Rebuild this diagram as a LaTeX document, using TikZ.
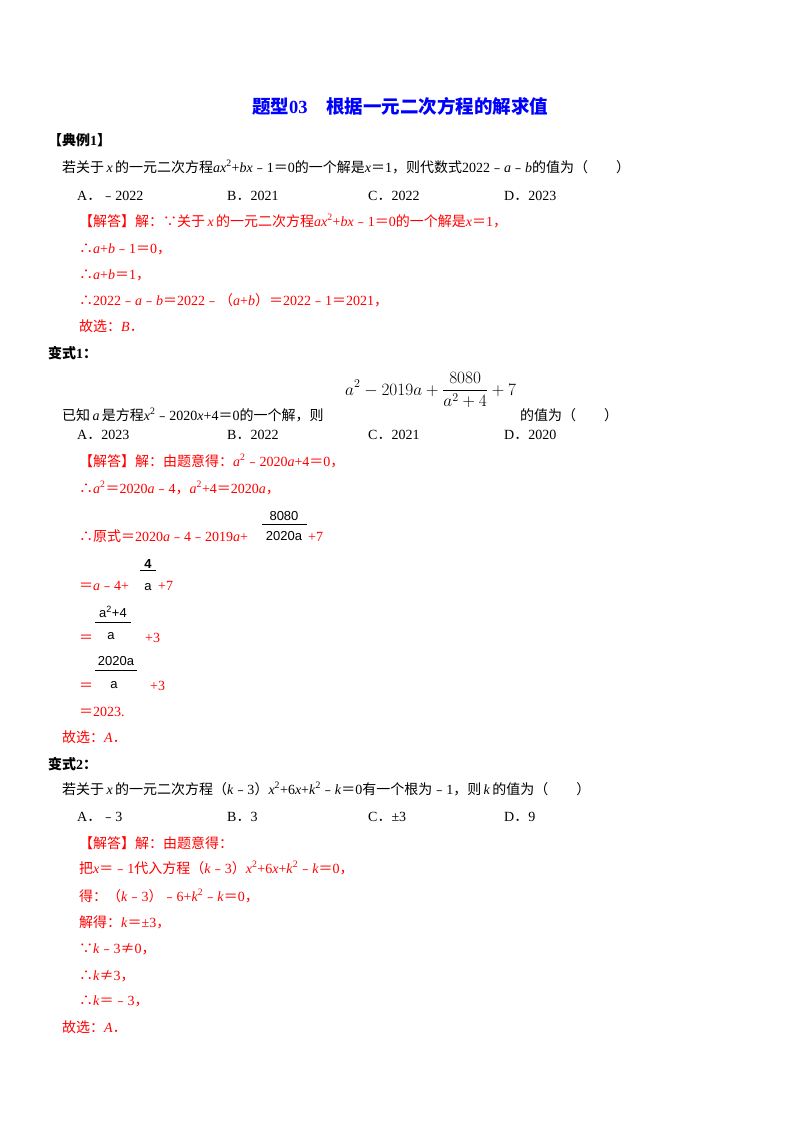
\documentclass[tikz,border=0pt]{standalone}
\usepackage{fontspec}
\setmainfont{Liberation Serif}
\newfontfamily\cjk{Noto Sans CJK SC}
\newfontfamily\lsans{Liberation Sans}
\newcommand{\zh}[1]{{\cjk #1}}
\newcommand{\sq}{\textsuperscript{2}}
\newcommand{\mi}{\zh{﹣}}
\newcommand{\eq}{\zh{＝}}
\begin{document}
\begin{tikzpicture}[x=1pt,y=-1pt,
  t/.style={anchor=base west,inner sep=0pt,font=\fontsize{14}{16}\selectfont},
  r/.style={t,text=red},
  h/.style={t,font=\fontsize{14}{16}\selectfont\bfseries},
  fr/.style={anchor=base,inner sep=0pt,font=\fontsize{13}{15}\lsans}]
\useasboundingbox[fill=white] (0,0) rectangle (800,1132);
\node[anchor=base,inner sep=0pt,text=blue,font=\fontsize{18.5}{21}\selectfont\bfseries] (title) at (400,113) {\zh{\bfseries 题型}03\quad\zh{\bfseries 根据一元二次方程的解求值}};
\node[h] (e1) at (48,145) {\zh{\bfseries 【典例}1\zh{\bfseries 】}};
\node[t] (q1) at (62,172) {\zh{若关于}\,\textit{x}\,\zh{的一元二次方程}\textit{ax}\sq+\textit{bx}\mi1\eq0\zh{的一个解是}\textit{x}\eq1\zh{，则代数式}2022\mi\textit{a}\mi\textit{b}\zh{的值为（\qquad）}};
\node[t] (o1a) at (77,200) {A\zh{．}\mi2022};
\node[t] (o1b) at (227,200) {B\zh{．}2021};
\node[t] (o1c) at (368,200) {C\zh{．}2022};
\node[t] (o1d) at (504,200) {D\zh{．}2023};
\node[r] (s11) at (79,226) {\zh{【解答】解：∵关于}\,\textit{x}\,\zh{的一元二次方程}\textit{ax}\sq+\textit{bx}\mi1\eq0\zh{的一个解是}\textit{x}\eq1\zh{，}};
\node[r] (s12) at (79,253) {\zh{∴}\textit{a}+\textit{b}\mi1\eq0\zh{，}};
\node[r] (s13) at (79,279) {\zh{∴}\textit{a}+\textit{b}\eq1\zh{，}};
\node[r] (s14) at (79,305) {\zh{∴}2022\mi\textit{a}\mi\textit{b}\eq2022\mi\zh{（}\textit{a}+\textit{b}\zh{）}\eq2022\mi1\eq2021\zh{，}};
\node[r] (s15) at (79,331) {\zh{故选：}\textit{B}\zh{．}};
\node[h] (v1) at (48,358) {\zh{\bfseries 变式}1\zh{\bfseries ：}};
\node[t] (q2) at (62,420) {\zh{已知}\,\textit{a}\,\zh{是方程}\textit{x}\sq\mi2020\textit{x}+4\eq0\zh{的一个解，则}};
\node[anchor=base west,inner sep=0pt,font=\fontsize{17}{19}\selectfont] (ex) at (345,395) {$\displaystyle a^2-2019a+\frac{8080}{a^2+4}+7$};
\node[t] (q2b) at (520,420) {\zh{的值为（\qquad）}};
\node[t] (o2a) at (77,439) {A\zh{．}2023};
\node[t] (o2b) at (227,439) {B\zh{．}2022};
\node[t] (o2c) at (368,439) {C\zh{．}2021};
\node[t] (o2d) at (504,439) {D\zh{．}2020};
\node[r] (s21) at (79,466) {\zh{【解答】解：由题意得：}\textit{a}\sq\mi2020\textit{a}+4\eq0\zh{，}};
\node[r] (s22) at (79,493) {\zh{∴}\textit{a}\sq\eq2020\textit{a}\mi4\zh{，}\textit{a}\sq+4\eq2020\textit{a}\zh{，}};
\node[r] (s23) at (79,541) {\zh{∴原式}\eq2020\textit{a}\mi4\mi2019\textit{a}+};
\node[fr] (n23) at (284,520) {8080};
\node[fr] (d23) at (284,540) {2020a};
\draw[line width=0.6pt] (262,524) -- (307,524);
\node[r] (p23) at (308,541) {+7};
\node[r] (s24) at (79,590) {\eq\textit{a}\mi4+};
\node[fr] (n24) at (148,568) {\textbf{4}};
\node[fr] (d24) at (148,590) {a};
\draw[line width=0.6pt] (140,570) -- (156,570);
\node[r] (p24) at (158,590) {+7};
\node[r] (s25) at (79,642) {\eq};
\node[fr] (n25) at (113,617) {a\textsuperscript{2}+4};
\node[fr] (d25) at (111,639) {a};
\draw[line width=0.6pt] (95,622) -- (131,622);
\node[r] (p25) at (145,642) {+3};
\node[r] (s26) at (79,690) {\eq};
\node[fr] (n26) at (116,665) {2020a};
\node[fr] (d26) at (114,688) {a};
\draw[line width=0.6pt] (95,670) -- (137,670);
\node[r] (p26) at (150,690) {+3};
\node[r] (s27) at (79,716) {\eq2023.};
\node[r] (s28) at (62,742) {\zh{故选：}\textit{A}\zh{．}};
\node[h] (v2) at (48,769) {\zh{\bfseries 变式}2\zh{\bfseries ：}};
\node[t] (q3) at (62,794) {\zh{若关于}\,\textit{x}\,\zh{的一元二次方程（}\textit{k}\mi3\zh{）}\textit{x}\sq+6\textit{x}+\textit{k}\sq\mi\textit{k}\eq0\zh{有一个根为}\mi1\zh{，则}\,\textit{k}\,\zh{的值为（\qquad）}};
\node[t] (o3a) at (77,821) {A\zh{．}\mi3};
\node[t] (o3b) at (227,821) {B\zh{．}3};
\node[t] (o3c) at (368,821) {C\zh{．}±3};
\node[t] (o3d) at (504,821) {D\zh{．}9};
\node[r] (s31) at (79,848) {\zh{【解答】解：由题意得：}};
\node[r] (s32) at (79,873) {\zh{把}\textit{x}\eq\mi1\zh{代入方程（}\textit{k}\mi3\zh{）}\textit{x}\sq+6\textit{x}+\textit{k}\sq\mi\textit{k}\eq0\zh{，}};
\node[r] (s33) at (79,901) {\zh{得：（}\textit{k}\mi3\zh{）}\mi6+\textit{k}\sq\mi\textit{k}\eq0\zh{，}};
\node[r] (s34) at (79,927) {\zh{解得：}\textit{k}\eq±3\zh{，}};
\node[r] (s35) at (79,953) {\zh{∵}\textit{k}\mi3\zh{≠}0\zh{，}};
\node[r] (s36) at (79,980) {\zh{∴}\textit{k}\zh{≠}3\zh{，}};
\node[r] (s37) at (79,1005) {\zh{∴}\textit{k}\eq\mi3\zh{，}};
\node[r] (s38) at (62,1032) {\zh{故选：}\textit{A}\zh{．}};
\end{tikzpicture}
\end{document}
